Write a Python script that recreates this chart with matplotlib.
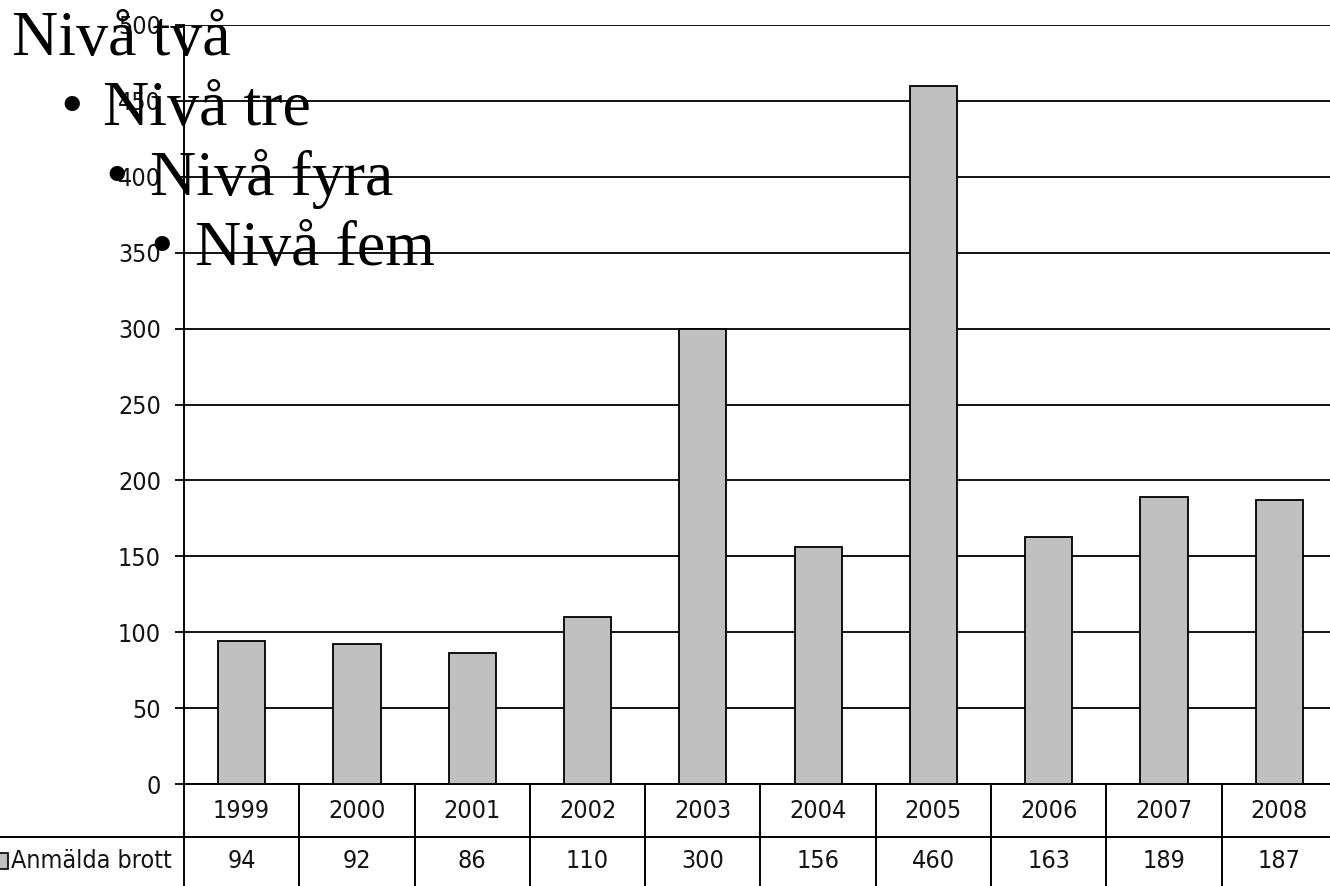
import matplotlib.pyplot as plt
from matplotlib.patches import Rectangle
import matplotlib.transforms as mtransforms

# data
years = ['1999', '2000', '2001', '2002', '2003', '2004', '2005', '2006', '2007', '2008']
anmalda = [94, 92, 86, 110, 300, 156, 460, 163, 189, 187]
series_name = 'Anmälda brott'
yticks = list(range(0, 501, 50))
levels = ['Nivå två', 'Nivå tre', 'Nivå fyra', 'Nivå fem']

narrow = dict(family='DejaVu Sans', stretch='condensed', fontsize=18, color='#141414')
serif = ['Liberation Serif', 'DejaVu Serif']

fig = plt.figure(figsize=(13.3, 8.86), dpi=100)
ax = fig.add_axes([0.1383, 0.1151, 0.867, 0.8567])

x = list(range(len(years)))
ax.bar(x, anmalda, width=0.41, color='#c0c0c0', edgecolor='black', linewidth=1.3, zorder=3)

ax.set_xlim(-0.5, len(years) - 0.5)
ax.set_ylim(0, 500)
ax.set_yticks(yticks)
ax.set_yticklabels([str(v) for v in yticks], **narrow)
ax.set_xticks([])
ax.grid(axis='y', color='black', linewidth=1.3, zorder=1)
ax.tick_params(axis='y', length=6.5, width=1.3, pad=10)
for s in ['top', 'right']:
    ax.spines[s].set_visible(False)
ax.spines['left'].set_linewidth(1.4)
ax.spines['bottom'].set_linewidth(1.4)

# data table below the axis
tr = mtransforms.blended_transform_factory(ax.transData, fig.transFigure)
y_top = 0.1151
y_mid = (886 - 837) / 886
for i in range(len(years) + 1):
    ax.plot([i - 0.5, i - 0.5], [y_top, 0], transform=tr, color='black', lw=1.4, clip_on=False)
ax.plot([0, 1], [y_mid, y_mid], transform=fig.transFigure, color='black', lw=1.4, clip_on=False)
for i, (yr, v) in enumerate(zip(years, anmalda)):
    ax.text(i, (y_top + y_mid) / 2, yr, transform=tr, ha='center', va='center', **narrow)
    ax.text(i, y_mid / 2, str(v), transform=tr, ha='center', va='center', **narrow)

fig.add_artist(Rectangle((-0.003, 17 / 886), 0.009, 16 / 886, transform=fig.transFigure,
                         facecolor='#c0c0c0', edgecolor='black', lw=1.2))
fig.text(172 / 1330, y_mid / 2, series_name, ha='right', va='center', **narrow)

# overlaid outline text
fig.text(12 / 1330, 1 - 55 / 886, levels[0], family=serif, fontsize=46, color='black', va='baseline')
bullets = [(60, 103, 125), (105, 150, 195), (150, 195, 265)]
for (bx, tx, by), lab in zip(bullets, levels[1:]):
    fig.text(bx / 1330, 1 - by / 886, '•', family=serif, fontsize=46, color='black', va='baseline')
    fig.text(tx / 1330, 1 - by / 886, lab, family=serif, fontsize=46, color='black', va='baseline')

fig.savefig('out.png', dpi=100)
